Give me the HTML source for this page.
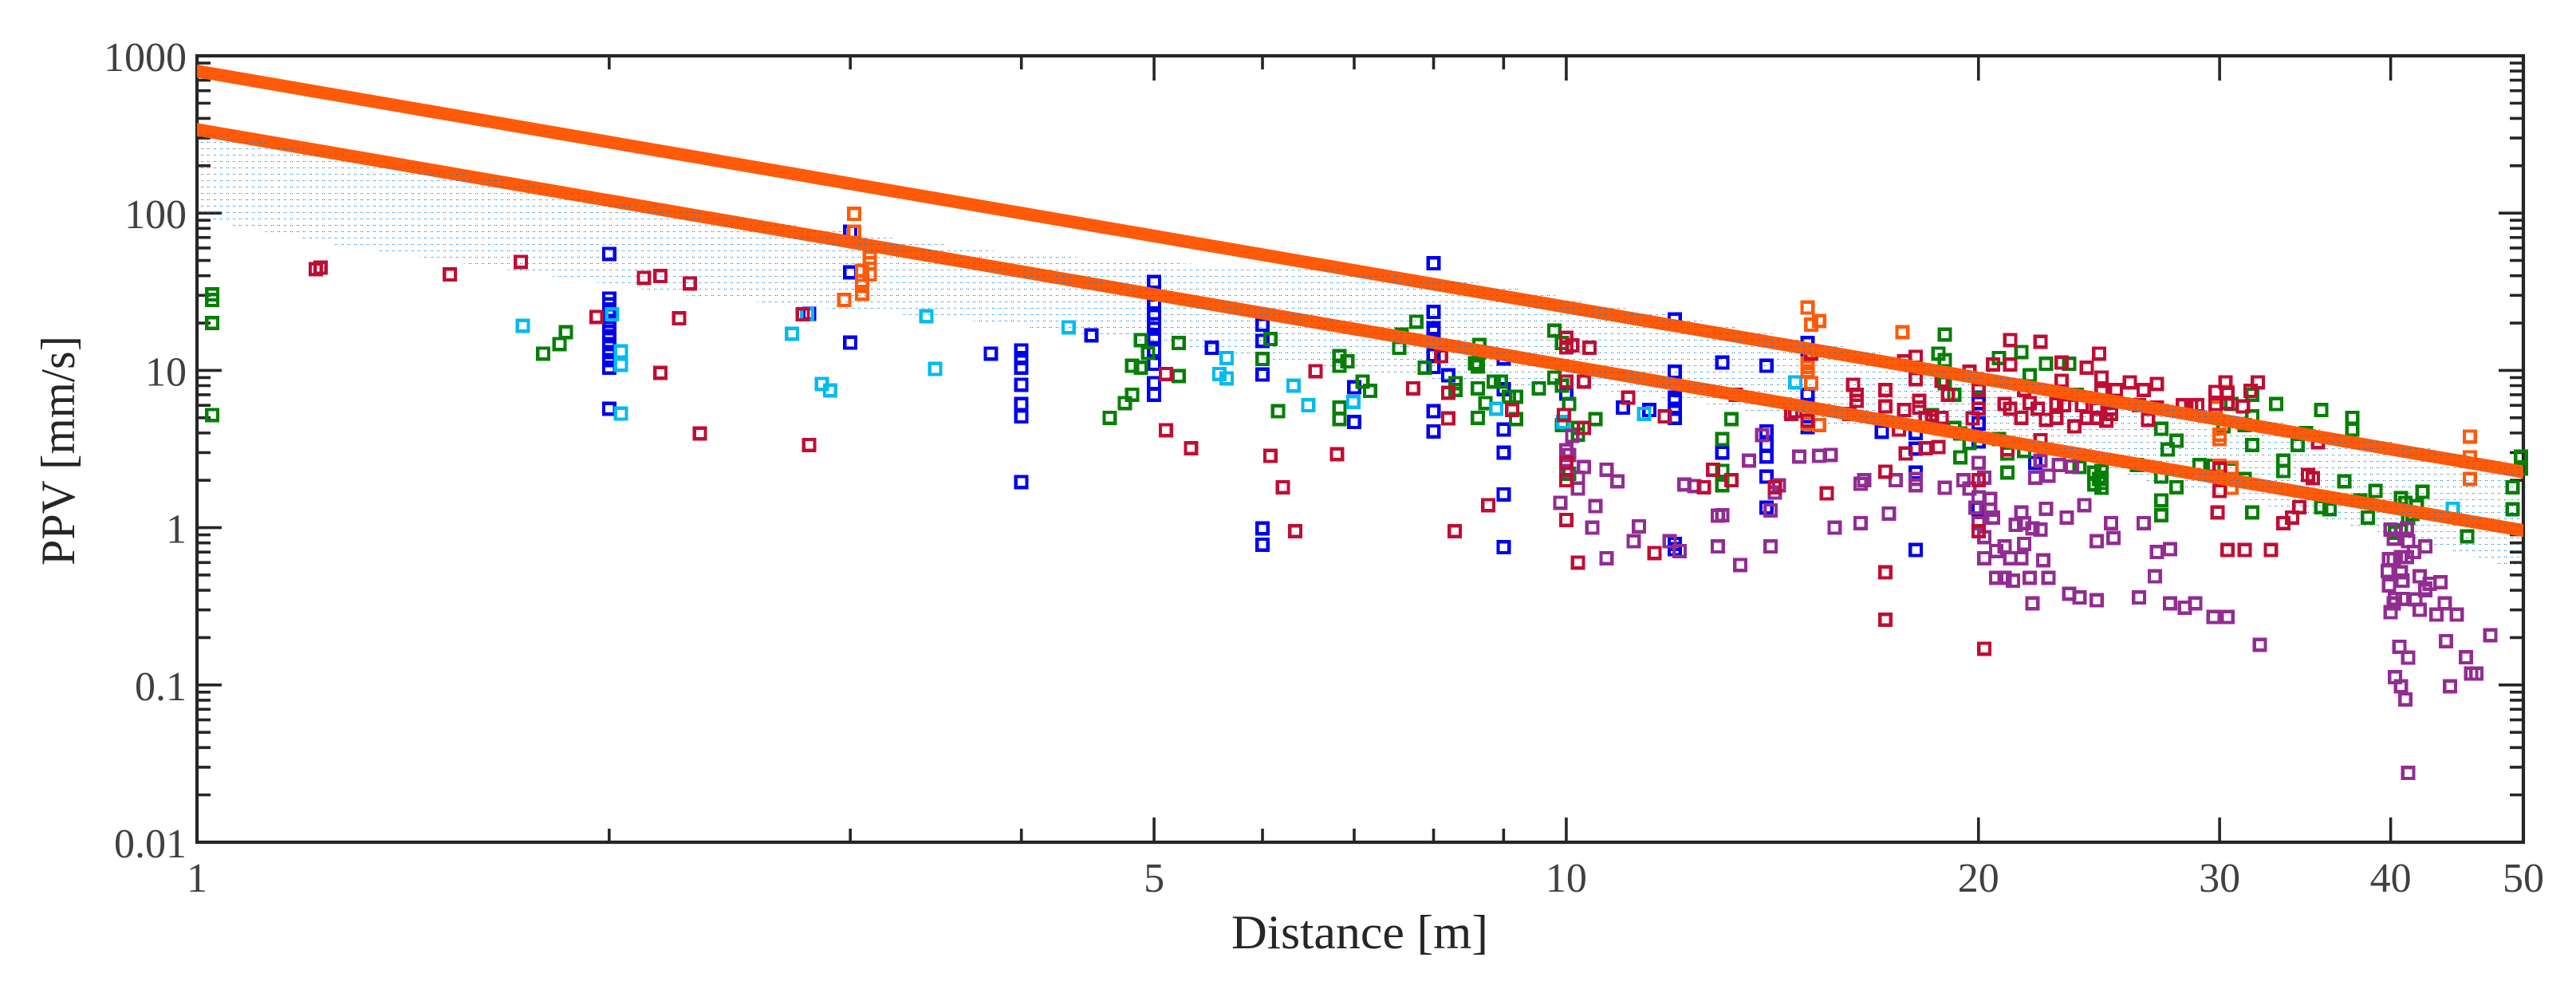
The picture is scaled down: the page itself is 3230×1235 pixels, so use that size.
<!DOCTYPE html>
<html lang="en">
<head>
<meta charset="utf-8">
<title>PPV vs Distance</title>
<style>
html,body{margin:0;padding:0;background:#fff;}
svg{display:block;}
text{font-family:"Liberation Serif",serif;}
</style>
</head>
<body>
<svg id="chart" xmlns="http://www.w3.org/2000/svg" width="3230" height="1235" viewBox="0 0 3230 1235">
<defs>
<clipPath id="plot-clip"><rect x="247" y="70" width="2917" height="986"/></clipPath>
<clipPath id="line-strip-clip"></clipPath>
<pattern id="hatch-dots" patternUnits="userSpaceOnUse" width="8" height="8">
<rect x="4" y="2" width="1" height="1" fill="#0078d0"/>
<rect x="6" y="2" width="1" height="1" fill="#0078d0"/>
</pattern>
</defs>
<g id="axes"></g>
<g id="band-layer"></g>
<g id="marks"></g>
<g id="lines" clip-path="url(#plot-clip)"></g>
<g id="band-over-lines"></g>
<text x="1705" y="1189" font-size="60" fill="#262626" text-anchor="middle" textLength="322" lengthAdjust="spacingAndGlyphs">Distance [m]</text>
<text transform="translate(93,565) rotate(-90)" font-size="60" fill="#262626" text-anchor="middle" textLength="288" lengthAdjust="spacingAndGlyphs">PPV [mm/s]</text>
</svg>
<script>
// ---- axis tick values ----
const xMajorTicks = [1, 5, 10, 20, 30, 40, 50];
const xMinorTicks = [2, 3, 4, 6, 7, 8, 9];
const yMajorTicks = [0.01, 0.1, 1, 10, 100, 1000];
const xTickLabels = ["1", "5", "10", "20", "30", "40", "50"];
const yTickLabels = ["0.01", "0.1", "1", "10", "100", "1000"];
const yMinorMultipliers = [2, 3, 4, 5, 6, 7, 8, 9];

// ---- limit lines ----
const limitDistance = [1, 50];
const upperLimitPPV = [800, 2.26];
const lowerLimitPPV = [340, 0.96];

// ---- hatched band boundary ----
const bandUpperDistance = [1, 1.057, 2.33, 3.21, 3.51, 3.78, 4.35, 5.2, 6.91, 7.51, 8.62, 9.21, 9.8, 10.3, 11.8, 16.9, 50];
const bandUpperPPV = [329, 310, 101, 69.7, 63.4, 57.8, 52.6, 48, 43.7, 39.8, 36.2, 33, 30.1, 27.4, 22.7, 13, 2.52];
const bandLowerDistance = [1, 1.06, 1.26, 1.69, 2.28, 2.89, 3.7, 4.82, 6.5, 8.77, 10.8, 12.7, 15.3, 19.2, 23.4, 26.5, 31.2, 39.2, 44.4, 47.9, 50];
const bandLowerPPV = [91.7, 83.5, 63.1, 43.4, 29.9, 24.8, 20.6, 15.6, 10.7, 8.09, 7.36, 6.11, 4.62, 4.2, 2.89, 1.99, 1.5, 0.94, 0.71, 0.59, 0.54];

// ---- blue series ----
const blueDistance = [
2,2,2,2,2,2,2,2,2,2,2,2,
3,3,3,2.8,3.8,4.5,
4,4,4,4,4,4,4,
5,5,5,5,5,5,5,5,5,5,5.51,
6,6,6,6,6,6,
8,8,8,8,8,8,8,8,8.2,7,7,
9,9,9,9,9,9,10,11,11.5,
12,12,12,12,12,12,12,12,
14,14,14,14,14,14,13,13,
15,15,15,15,15,17,
18,18,18,18,18,18,18,
20,20,20,20,20,20,20,22];
const bluePPV = [
55,28.6,26.3,23.5,20.6,18.6,16.5,14.7,13.1,11.6,10.4,5.7,
76,42,15,22.9,12.8,16.7,
13.4,12,10.4,8.1,6.1,5.1,1.95,
36.5,26,23,19.7,18.4,16.3,13.4,11,8.3,7,13.9,
19.5,15.4,11.8,9.4,0.99,0.78,
48,23.5,18.6,17.7,12.5,10.5,5.5,4.1,9.3,7.8,4.7,
11.9,7.6,4.2,3,1.63,0.75,7.1,5.8,5.6,
21.1,9.8,6.7,6.4,5.7,5,0.79,0.73,
10.7,4.1,3.36,2.83,2.11,1.34,11.2,3,
14.9,12.8,7,6,4.35,4.07,
8.8,4,3.18,2.24,2.04,1.86,0.72,
7.6,6.7,6.2,4.6,3.53,1.56,1.32,2.58];

// ---- green series ----
const greenDistance = [
1.026,1.026,1.026,1.026,1.79,1.84,1.86,
4.64,4.76,4.82,4.82,4.89,4.89,4.95,5.21,5.21,
6.16,6.08,6,6.83,6.92,6.83,7.1,7.19,6.83,6.83,
7.58,7.77,7.55,7.88,8.3,8.3,8.64,8.64,8.58,8.62,8.62,8.85,8.96,8.73,8.62,
9.08,9.19,9.19,9.55,9.8,9.93,9.8,9.93,10.05,9.93,10.2,10.5,10.05,10.2,
13.2,13,13,13,
18.9,18.7,18.9,18.9,19.2,18.5,19.4,19.7,19.4,20.2,20.7,21.5,22.4,21.8,23.3,20,21,21,21.6,20.7,19.2,23.6,
24.3,24.3,24.6,24.6,24.6,24.6,24.5,26.1,23.7,
27.2,27.9,27.5,29,27.9,27.2,27.2,27.2,29.7,
33,35.6,37.5,37.5,34.7,34.2,31.7,31.7,33.4,33.4,37,36.1,35.6,38,38.5,39,40.7,41,41.8,42.2,41.5,45.5,49.1,49.1,49.8,49.8,
31.3,31.7,31.7,30.2,30.6,30.6,31.3,40.3,41.2,40.7];
const greenPPV = [
30.4,28,20,5.2,12.8,14.7,17.5,
5,6.2,7,10.7,10.4,15.6,12.9,14.9,9.2,
5.5,15.8,11.8,12.3,11.4,10.7,8.5,7.4,5.8,4.9,
16.9,20.4,13.9,10.4,8.3,7.5,14.5,13.1,11.1,10.6,7.7,8.5,8.5,6.2,5,
6.8,6.8,4.9,7.7,17.9,14.9,9,8,6.1,4.5,4.3,4.9,2.2,3.9,
4.9,3.65,2.3,1.86,
16.9,12.8,11.6,8.3,7,5.2,2.8,3.45,3.97,2.08,12,13.1,11,9.3,11,7.8,2.24,2.96,3.07,3.65,4.3,7,
2.24,1.88,2.29,2.08,1.92,1.79,2.04,2.5,2.43,
4.25,3.57,3.14,2.5,1.81,2.11,1.49,1.2,2.48,
6.1,5.6,5,4.2,4,3.36,3.36,1.25,2.67,2.29,1.97,1.31,1.35,1.49,1.16,1.71,1.54,1.44,1.37,1.69,1.22,0.88,1.81,1.31,2.83,2.37,
4.5,5.1,7,4.4,6.1,2.34,2.04,0.93,1.16,0.96];

// ---- cyan series ----
const cyanDistance = [
1.73,2.01,2.04,2.04,2.04,2.79,2.72,2.86,2.9,3.41,3.46,4.33,
5.65,5.58,5.65,6.32,6.48,6.99,8.89,9.95,14.7,11.4,44.4];
const cyanPPV = [
19.2,22.7,13.2,10.85,5.31,22.7,17.1,8.2,7.46,22.1,10.2,18.8,
12,9.5,8.9,8,6,6.3,5.7,4.7,8.4,5.3,1.32];

// ---- orange series ----
const orangeDistance = [
3.02,3.02,3.1,3.1,3.1,3.06,3.06,3.06,2.97,3.06,
15,15.3,15.1,17.6,15,15,15.1,15,15.3,15,
45.7,45.7,45.7,30,30,30,30.6,30.6,30.4,29.8];
const orangePPV = [
99,76,52,48,40.7,43,34.5,30.7,28,37,
25.1,20.6,19.5,17.5,11.1,9.9,8.3,10.5,4.5,4.6,
3.8,2.8,2.04,3.9,3.65,2.48,2.4,1.79,7.3,5.8];

// ---- purple series ----
const purpleDistance = [
10.1,10,10.05,10,10.2,10.2,10.3,10.7,10.9,9.9,10.5,10.45,11.3,11.2,10.7,
11.9,12.1,12.2,12.4,12.9,13,12.9,13.4,14.1,14.1,13.6,13.9,14.3,14.2,14.8,
15.3,15.6,16.5,16.4,17.4,17.2,16.4,15.7,18,18,18.9,19.5,19.7,20.2,20,
20,20.4,19.9,20.4,20.5,20,20.2,21.3,21.6,21.5,22.2,21.9,22.4,23.2,23.9,
25,26.4,22.2,22,22.5,22.9,23.4,20.9,20.6,21.6,20.2,21.1,21.5,22.3,20.6,
20.9,21.2,21.8,22.5,21.9,23.3,23.7,24.4,26.2,24.4,25.1,27.6,27,26.9,27.6,
28.3,28.8,29.7,30.4,32.1,40,40.2,41.1,41.2,42.4,41.6,41.1,40.7,39.9,40.2,
39.8,40.7,39.9,40.8,42,43.5,42.7,42.4,42.4,40.8,40.3,40.2,41.7,40,42,
43.8,43.2,44.7,47.3,43.9,40.6,41.2,45.4,40.3,40.7,41,44.2,45.8,46.2,41.2];
const purplePPV = [
3.83,3.1,2.9,2.29,2.08,1.77,2.43,2.34,1.97,1.44,1.37,1,1.02,0.82,0.64,
0.82,0.71,1.88,1.84,1.19,1.2,0.76,0.58,0.76,1.29,2.67,3.87,1.86,1.67,2.83,
2.86,2.9,2.01,1.9,2,1.23,1.07,1,2.04,1.86,1.79,2,1.77,2.08,2.58,
1.56,1.52,1.34,1.3,1.16,1.07,0.87,1.04,1.07,1.25,0.97,0.99,1.32,1.16,1.39,
1.07,1.07,2.67,2.08,2.14,2.5,2.45,0.76,0.71,0.79,0.64,0.64,0.64,0.62,0.48,
0.48,0.46,0.48,0.48,0.33,0.38,0.36,0.345,0.36,0.82,0.86,0.73,0.7,0.49,0.33,
0.31,0.33,0.27,0.27,0.18,0.97,0.85,0.99,0.82,0.76,0.7,0.65,0.65,0.63,0.63,
0.53,0.52,0.43,0.46,0.49,0.45,0.44,0.41,0.4,0.353,0.353,0.33,0.35,0.29,0.3,
0.33,0.28,0.28,0.207,0.19,0.175,0.149,0.15,0.112,0.098,0.081,0.098,0.118,0.118,0.0276];

// ---- crimson series ----
const crimsonDistance = [
1.221,1.231,1.53,1.724,1.958,2.12,2.18,2.29,2.25,2.18,2.33,2.77,2.8,
5.1,5.1,5.32,6.08,6.21,6.34,6.56,6.8,7.73,8.1,8.2,8.2,9.13,8.29,8.77,
9.96,10.3,10,10,10.1,10.4,10,10.3,11.1,10,10,10,10.2,
11.6,11.8,12.8,13.2,12.6,14.2,15,14.7,15.5,17.1,17.1,17.1,17.7,18.3,18.7,
16.3,17.1,17.65,18.1,13.3,15.1,14.6,16.2,16.3,16.1,17.1,17.5,17.65,18,18,
18.1,18.1,18.3,18.5,18.8,19,18.8,19.7,20.5,21.1,21.1,22.2,23,24.5,24,
24.6,23,25.8,25.2,24.6,26.4,27,20,21.6,18.5,20,19.8,20.9,21.1,21.5,
21.8,22.1,22.4,22.8,22.8,23.1,23.8,23.5,24,24.4,24.8,25,25,24.4,22.2,
21,26.2,27,26.6,28.2,28.6,28.9,29.8,29.9,30,30.3,29.8,31.2,31.6,32,
30.4,30.4,30,30.4,31.3,32.7,33.4,33.9,34.3,34.8,35.1,35.4,20,20,20.2];
const crimsonPPV = [
44,45,40.7,49,21.9,38.8,39.8,35.7,21.4,9.65,3.97,22.7,3.36,
9.5,4.17,3.2,2.86,1.81,0.95,9.9,2.93,7.7,12.3,7.2,4.95,5.6,0.95,1.39,
5.2,4.3,16.1,14,14.4,13.9,8.5,8.5,6.7,2.58,2,1.12,0.6,
0.69,5.1,2.34,2,1.81,1.81,4.8,5.5,1.65,2.27,0.52,0.26,2.96,3.2,3.25,
6.4,5.9,5.6,5.8,7,12.8,5.3,8.1,7,5.3,7.5,4.2,11.4,12.2,8.8,
6.4,5.8,5,5.1,5,7,8.6,9.8,10.9,10.9,15.6,15.2,11.2,12.8,10.4,
9,8.6,8.4,7.5,7.3,7.5,8.2,7.5,7.5,4.8,5.7,4.95,6.1,5.7,5,
6.2,5.7,4.85,5,6.1,6,6,4.4,5,5,4.8,5.3,5.7,5.7,3.6,
3.15,6,5.8,4.85,6,6,6,7.3,1.25,1.71,8.4,6.1,5.9,7.4,8.4,
7.1,6.2,2.37,0.72,0.72,0.72,1.07,1.16,1.35,2.16,2.06,3.5,2,0.95,0.17];

// ---- axis functions ----
const PLOT_LEFT = 247, PLOT_RIGHT = 3164, PLOT_TOP = 70, PLOT_BOTTOM = 1056;
const X_PER_DECADE = (PLOT_RIGHT - PLOT_LEFT) / Math.log10(50);
const Y_PER_DECADE = (PLOT_BOTTOM - PLOT_TOP) / 5;
function xScale(d) { return PLOT_LEFT + X_PER_DECADE * Math.log10(d); }
function yScale(v) { return PLOT_BOTTOM - Y_PER_DECADE * (Math.log10(v) + 2); }

const NS = "http://www.w3.org/2000/svg";
const marks = document.getElementById("marks");
const axes = document.getElementById("axes");
const lines = document.getElementById("lines");
const bandLayer = document.getElementById("band-layer");
const bandOverLines = document.getElementById("band-over-lines");
const stripClip = document.getElementById("line-strip-clip");
function make(tag, parent, attrs) {
  const el = document.createElementNS(NS, tag);
  for (const k in attrs) el.setAttribute(k, attrs[k]);
  parent.appendChild(el);
  return el;
}
function linePoints(ds, vs) {
  return ds.map(function (d, i) { return xScale(d) + "," + yScale(vs[i]); }).join(" ");
}

// axes box
const box = make("rect", axes, {
  x: PLOT_LEFT, y: PLOT_TOP, width: PLOT_RIGHT - PLOT_LEFT, height: PLOT_BOTTOM - PLOT_TOP,
  fill: "none", stroke: "#262626", "stroke-width": 4.2
});



function tickLine(parent, x1, y1, x2, y2, name) {
  const t = make("line", parent, { x1: x1, y1: y1, x2: x2, y2: y2, stroke: "#262626", "stroke-width": 3.6 });
  
  
}
const MAJOR_LEN = 31, MINOR_LEN = 17;
xMajorTicks.forEach(function (d) {
  const x = xScale(d);
  tickLine(axes, x, PLOT_BOTTOM, x, PLOT_BOTTOM - MAJOR_LEN, 'x-major-tick');
  tickLine(axes, x, PLOT_TOP, x, PLOT_TOP + MAJOR_LEN, 'x-major-tick-top');
});
xMinorTicks.forEach(function (d) {
  const x = xScale(d);
  tickLine(axes, x, PLOT_BOTTOM, x, PLOT_BOTTOM - MINOR_LEN, 'x-minor-tick');
  tickLine(axes, x, PLOT_TOP, x, PLOT_TOP + MINOR_LEN, 'x-minor-tick-top');
});
yMajorTicks.forEach(function (v, i) {
  const y = yScale(v);
  tickLine(axes, PLOT_LEFT, y, PLOT_LEFT + MAJOR_LEN, y, 'y-major-tick');
  tickLine(axes, PLOT_RIGHT, y, PLOT_RIGHT - MAJOR_LEN, y, 'y-major-tick-right');
  if (i < yMajorTicks.length - 1) {
    yMinorMultipliers.forEach(function (m) {
      const ym = yScale(v * m);
      tickLine(axes, PLOT_LEFT, ym, PLOT_LEFT + MINOR_LEN, ym, 'y-minor-tick');
      tickLine(axes, PLOT_RIGHT, ym, PLOT_RIGHT - MINOR_LEN, ym, 'y-minor-tick-right');
    });
  }
});

// tick labels
xMajorTicks.forEach(function (d, i) {
  const t = make("text", axes, { x: xScale(d), y: 1118, "font-size": 52, fill: "#404040", "text-anchor": "middle" });
  t.textContent = xTickLabels[i];
  
  
});
yMajorTicks.forEach(function (v, i) {
  const t = make("text", axes, { x: 234, y: yScale(v) + 19, "font-size": 52, fill: "#404040", "text-anchor": "end" });
  t.textContent = yTickLabels[i];
  
  
});

// hatched band under the markers
const bandPoints = linePoints(bandUpperDistance, bandUpperPPV) + " " +
  linePoints(bandLowerDistance.slice().reverse(), bandLowerPPV.slice().reverse());
const band = make("polygon", bandLayer, { points: bandPoints, fill: "url(#hatch-dots)", "shape-rendering": "crispEdges" });



// markers, in stacking order
const seriesList = [
  ["blue", "#0000f0", blueDistance, bluePPV],
  ["green", "#067f06", greenDistance, greenPPV],
  ["cyan", "#00bbf0", cyanDistance, cyanPPV],
  ["orange", "#ff5a0a", orangeDistance, orangePPV],
  ["purple", "#922c92", purpleDistance, purplePPV],
  ["crimson", "#c00d33", crimsonDistance, crimsonPPV]
];
const MARKER_SIDE = 13.7;
seriesList.forEach(function (s) {
  const g = make("g", marks, { fill: "none", stroke: s[1], "stroke-width": 4.3, "shape-rendering": "crispEdges" });
  
  
  s[2].forEach(function (d, i) {
    const v = s[3][i];
    if (v === undefined) return;
    const r = make("rect", g, {
      x: xScale(d) - MARKER_SIDE / 2,
      y: yScale(v) - MARKER_SIDE / 2,
      width: MARKER_SIDE,
      height: MARKER_SIDE
    });
    
    
  });
});

// limit lines over the markers, with the dots showing through on the lines
const LINE_WIDTH = 16;
[["upper-limit-line", upperLimitPPV], ["lower-limit-line", lowerLimitPPV]].forEach(function (l) {
  const p = make("polyline", lines, {
    points: linePoints(limitDistance, l[1]),
    fill: "none",
    stroke: "#ff5a0a",
    "stroke-width": LINE_WIDTH,
    "stroke-linecap": "square"
  });
  
  
  const half = LINE_WIDTH / 2;
  const x0 = xScale(limitDistance[0]), x1 = xScale(limitDistance[1]);
  const y0 = yScale(l[1][0]), y1 = yScale(l[1][1]);
  make("polygon", stripClip, {
    points: x0 + "," + (y0 - half) + " " + x1 + "," + (y1 - half) + " " + x1 + "," + (y1 + half) + " " + x0 + "," + (y0 + half)
  });
});
const bandTop = make("polygon", bandOverLines, { points: bandPoints, fill: "url(#hatch-dots)", "clip-path": "url(#line-strip-clip)", "shape-rendering": "crispEdges" });


</script>
</body>
</html>
